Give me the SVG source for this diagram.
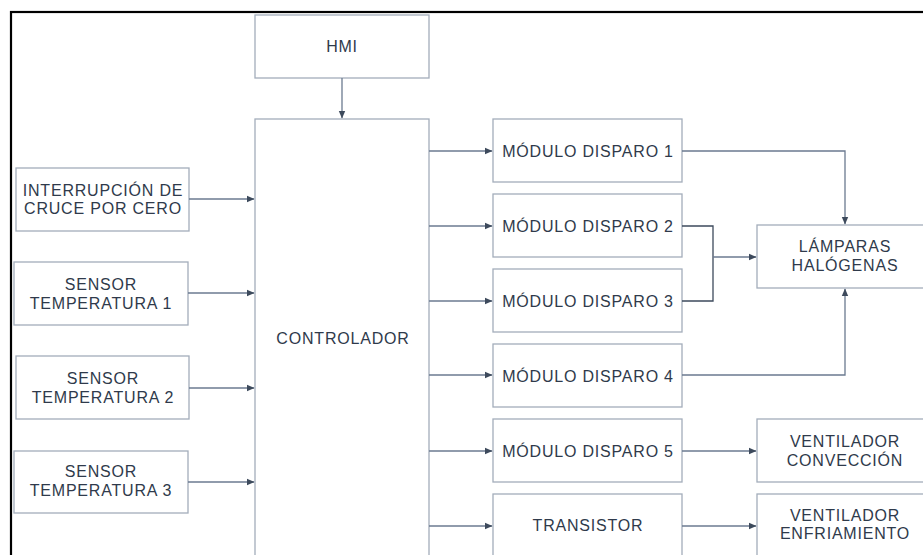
<svg xmlns="http://www.w3.org/2000/svg" width="923" height="555" viewBox="0 0 923 555">
<style>
.box{fill:#fff;stroke:#a3adbb;stroke-width:1.3}
.t{font-family:"Liberation Sans",Arial,sans-serif;font-size:16px;letter-spacing:0.8px;fill:#2f3a4b;text-anchor:middle}
.c{fill:none;stroke:#6b7a90;stroke-width:1.3}
.cd{fill:none;stroke:#3d4a5c;stroke-width:1.3}
</style>
<defs>
<marker id="ah" markerWidth="8" markerHeight="8" refX="7" refY="4" orient="auto" markerUnits="userSpaceOnUse">
<path d="M0,0.8 L7.5,4 L0,7.2 Z" fill="#3d4a5c"/>
</marker>
</defs>
<rect x="0" y="0" width="923" height="555" fill="#fff"/>
<rect x="11" y="12" width="940" height="580" fill="none" stroke="#000" stroke-width="2.2"/>

<g id="hmi"><rect class="box" x="255" y="15" width="174" height="63"/><text class="t" x="342" y="52">HMI</text></g>
<g id="controlador"><rect class="box" x="255" y="119" width="174" height="460"/><text class="t" x="343" y="344">CONTROLADOR</text></g>
<g id="interrupcion"><rect class="box" x="16" y="168" width="173" height="63"/><text class="t" x="103" y="196">INTERRUPCIÓN DE</text><text class="t" x="103" y="214">CRUCE POR CERO</text></g>
<g id="sensor1"><rect class="box" x="14" y="262" width="174" height="63"/><text class="t" x="101" y="290">SENSOR</text><text class="t" x="101" y="309">TEMPERATURA 1</text></g>
<g id="sensor2"><rect class="box" x="16" y="356" width="173" height="63"/><text class="t" x="103" y="384">SENSOR</text><text class="t" x="103" y="403">TEMPERATURA 2</text></g>
<g id="sensor3"><rect class="box" x="14" y="451" width="174" height="62"/><text class="t" x="101" y="477">SENSOR</text><text class="t" x="101" y="496">TEMPERATURA 3</text></g>

<g id="modulo1"><rect class="box" x="493" y="119" width="189" height="63"/><text class="t" x="588" y="157">MÓDULO DISPARO 1</text></g>
<g id="modulo2"><rect class="box" x="493" y="194" width="189" height="63"/><text class="t" x="588" y="232">MÓDULO DISPARO 2</text></g>
<g id="modulo3"><rect class="box" x="493" y="269" width="189" height="63"/><text class="t" x="588" y="307">MÓDULO DISPARO 3</text></g>
<g id="modulo4"><rect class="box" x="493" y="344" width="189" height="63"/><text class="t" x="588" y="382">MÓDULO DISPARO 4</text></g>
<g id="modulo5"><rect class="box" x="493" y="419" width="189" height="63"/><text class="t" x="588" y="457">MÓDULO DISPARO 5</text></g>
<g id="transistor"><rect class="box" x="493" y="494" width="189" height="80"/><text class="t" x="588" y="531">TRANSISTOR</text></g>

<g id="lamparas"><rect class="box" x="757" y="225" width="176" height="63"/><text class="t" x="845" y="252">LÁMPARAS</text><text class="t" x="845" y="271">HALÓGENAS</text></g>
<g id="ventilador_conveccion"><rect class="box" x="757" y="419" width="176" height="63"/><text class="t" x="845" y="447">VENTILADOR</text><text class="t" x="845" y="466">CONVECCIÓN</text></g>
<g id="ventilador_enfriamiento"><rect class="box" x="757" y="494" width="176" height="80"/><text class="t" x="845" y="521">VENTILADOR</text><text class="t" x="845" y="539">ENFRIAMIENTO</text></g>

<g id="connectors">
<path class="c" d="M342,78 V118" marker-end="url(#ah)"/>
<path class="c" d="M189,199 H254" marker-end="url(#ah)"/>
<path class="c" d="M188,293 H254" marker-end="url(#ah)"/>
<path class="c" d="M189,388 H254" marker-end="url(#ah)"/>
<path class="c" d="M188,482 H254" marker-end="url(#ah)"/>
<path class="c" d="M429,151 H492" marker-end="url(#ah)"/>
<path class="c" d="M429,226 H492" marker-end="url(#ah)"/>
<path class="c" d="M429,301 H492" marker-end="url(#ah)"/>
<path class="c" d="M429,375 H492" marker-end="url(#ah)"/>
<path class="c" d="M429,451 H492" marker-end="url(#ah)"/>
<path class="c" d="M429,526 H492" marker-end="url(#ah)"/>
<path class="c" d="M682,151 H845 V224" marker-end="url(#ah)"/>
<path class="cd" d="M682,226 H713 V301 H682"/>
<path class="c" d="M713,257 H756" marker-end="url(#ah)"/>
<path class="c" d="M682,375 H845 V289" marker-end="url(#ah)"/>
<path class="c" d="M682,451 H756" marker-end="url(#ah)"/>
<path class="c" d="M682,526 H756" marker-end="url(#ah)"/>
</g>
</svg>
